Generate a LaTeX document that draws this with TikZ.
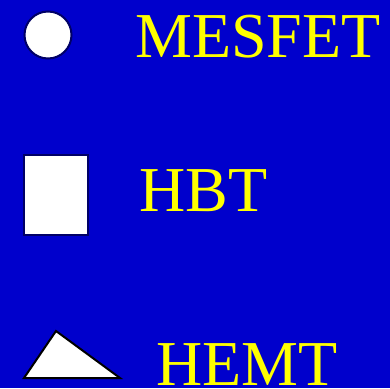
\documentclass[tikz,border=0pt]{standalone}
\usepackage{fontspec}
\setmainfont{Liberation Serif}
\definecolor{bgBlue}{HTML}{0000CC}
\definecolor{navy}{HTML}{000066}
\definecolor{labelYellow}{HTML}{FFFF00}
\usetikzlibrary{positioning}

\begin{document}
\begin{tikzpicture}[
  x=1pt, y=-1pt,
  markShape/.style={draw=navy, line width=2pt, fill=white, inner sep=0pt},
  devLabel/.style={text=labelYellow, inner sep=0pt, anchor=base west,
                   font=\fontsize{64}{64}\selectfont},
]

% background
\fill[bgBlue] (0,0) rectangle (390,388);
\useasboundingbox (0,0) rectangle (390,388);

% ------------------- MESFET -------------------
\node[markShape, circle, minimum size=47pt] (mesfetMark) at (48,35) {};
\node[devLabel] (mesfetText) at (135,57) {MESFET};

% ------------------- HBT ----------------------
\node[markShape, rectangle, minimum width=64pt, minimum height=80pt] (hbtMark) at (56,194.5) {};
\node[devLabel] (hbtText) at (139,211) {HBT};

% ------------------- HEMT ---------------------
\coordinate (hemtLeft) at (24,378);
\coordinate (hemtTop) at (56,331);
\coordinate (hemtRight) at (120,378);
\filldraw[markShape, draw=black, line join=miter] (hemtLeft) -- (hemtTop) -- (hemtRight) -- cycle;
\node[devLabel] (hemtText) at (156,385) {HEMT};

\end{tikzpicture}
\end{document}
